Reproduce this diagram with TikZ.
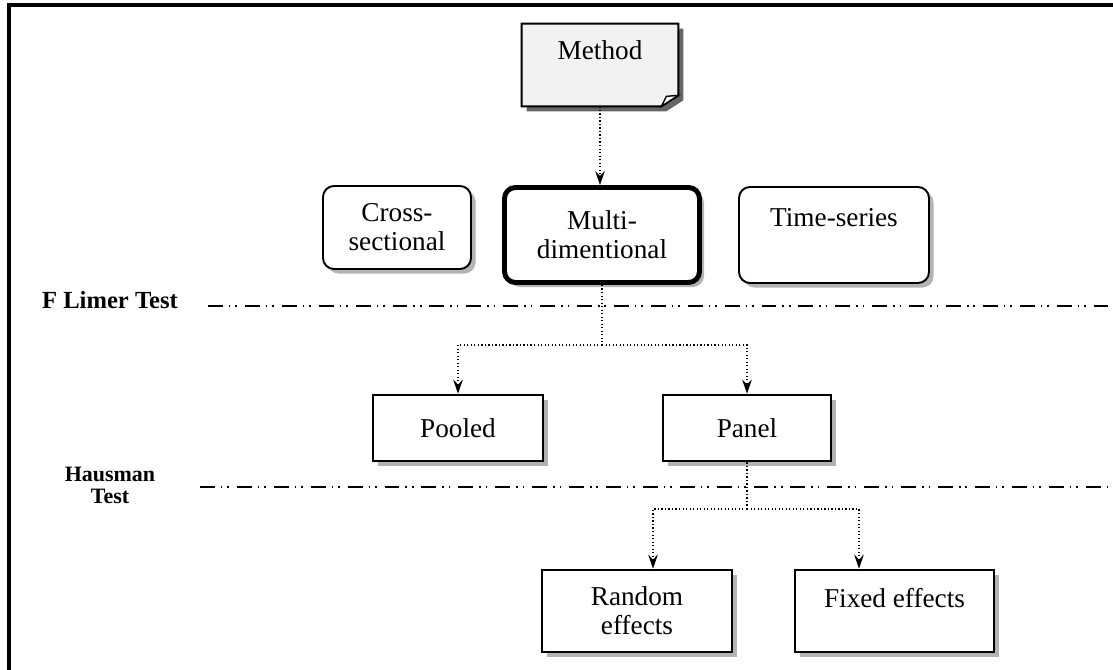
\documentclass[tikz,border=0pt]{standalone}
\usepackage{fontspec}
\setmainfont{Liberation Serif}
\usetikzlibrary{arrows.meta,shadows,backgrounds}

\begin{document}
\begin{tikzpicture}[
    font=\fontsize{15.5}{16.5}\selectfont,
    box/.style={draw, line width=1.5pt, align=center, fill=white,
      drop shadow={shadow xshift=0.09cm, shadow yshift=-0.09cm, opacity=0.6}},
    roundbox/.style={box, rounded corners=0.22cm, line width=1.1pt},
    thickbox/.style={roundbox, line width=2.8pt},
    toptext/.style={text height=11pt, text depth=#1},
    link/.style={line width=0.8pt, dash pattern=on 0.7pt off 1.3pt},
    conn/.style={link, -{Stealth[length=8pt,width=5.5pt,inset=2.8pt]}},
    sepline/.style={line width=1pt, dash pattern=on 8.5pt off 3.4pt on 0.9pt off 2.8pt on 0.9pt off 4.5pt},
    testlabel/.style={font=\bfseries\fontsize{14}{14}\selectfont, inner sep=0pt}
  ]
  \useasboundingbox (0,0) rectangle (22.26,-13.4);
  \draw[line width=2.2pt] (0.18,-13.4) -- (0.18,-0.1) -- (22.26,-0.1);

  \node[minimum width=3.12cm, minimum height=1.64cm, toptext=16.7pt] (method) at (12.0,-1.3) {Method};
  \begin{scope}[on background layer]
    \fill[black!60] ([shift={(0.1,-0.1)}]method.north west) -- ([shift={(0.1,-0.1)}]method.north east)
      -- ([shift={(0.1,0.12)}]method.south east) -- ([shift={(-0.24,-0.1)}]method.south east)
      -- ([shift={(0.1,-0.1)}]method.south west) -- cycle;
    \filldraw[fill=gray!10, line width=1.2pt] (method.north west) -- (method.north east)
      -- ([yshift=0.22cm]method.south east) -- ([xshift=-0.34cm]method.south east)
      -- (method.south west) -- cycle;
    \filldraw[fill=white, line width=0.8pt] ([xshift=-0.34cm]method.south east)
      -- ([shift={(-0.24,0.2)}]method.south east) -- ([yshift=0.22cm]method.south east) -- cycle;
  \end{scope}

  \node[roundbox, minimum width=2.96cm, minimum height=1.66cm] (cross) at (7.94,-4.55) {Cross-\\sectional};
  \node[thickbox, minimum width=3.9cm, minimum height=1.9cm] (multi) at (12.04,-4.7) {Multi-\\dimentional};
  \node[roundbox, minimum width=3.8cm, minimum height=1.92cm, toptext=21pt] (time) at (16.68,-4.7) {Time-series};

  \node[box, minimum width=3.4cm, minimum height=1.32cm] (pooled) at (9.16,-8.56) {Pooled};
  \node[box, minimum width=3.36cm, minimum height=1.32cm] (panel) at (14.94,-8.56) {Panel};

  \node[box, minimum width=3.8cm, minimum height=1.64cm] (random) at (12.74,-12.22) {Random\\effects};
  \node[box, minimum width=3.98cm, minimum height=1.64cm, toptext=15.5pt] (fixed) at (17.89,-12.22) {Fixed effects};

  \node[testlabel, anchor=base] (flimer) at (2.2,-6.16) {F Limer Test};
  \node[testlabel, font=\bfseries\fontsize{12.5}{12.5}\selectfont, align=center, anchor=north] (hausman) at (2.2,-9.34) {Hausman\\Test};

  \draw[sepline] (4.16,-6.12) -- (22.16,-6.12);
  \draw[sepline] (4.0,-9.74) -- (22.16,-9.74);

  \coordinate (fork1) at (12.04,-6.9);
  \coordinate (fork2) at (14.94,-10.18);
  \draw[conn] (method.south) -- (method.south |- multi.north);
  \draw[link] (multi.south) -- (fork1);
  \draw[conn] (fork1) -| (pooled.north);
  \draw[conn] (fork1) -| (panel.north);
  \draw[link] (panel.south) -- (fork2);
  \draw[conn] (fork2) -| ([xshift=0.32cm]random.north);
  \draw[conn] (fork2) -| ([xshift=-0.71cm]fixed.north);
\end{tikzpicture}
\end{document}
